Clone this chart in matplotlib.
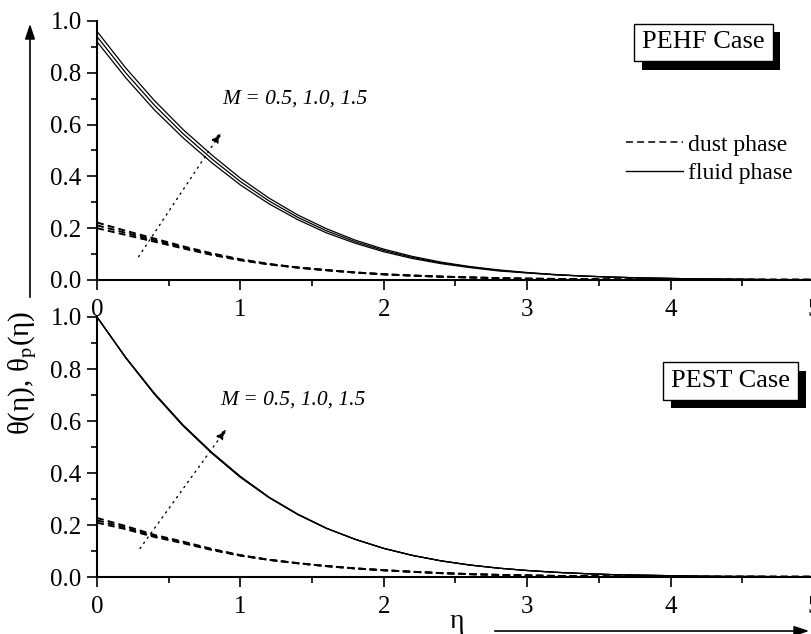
import matplotlib
matplotlib.use('Agg')
import matplotlib.pyplot as plt
import matplotlib.patheffects as pe
from matplotlib.ticker import MultipleLocator, FormatStrFormatter

plt.rcParams['font.family'] = ['Liberation Serif', 'DejaVu Serif']
plt.rcParams['mathtext.fontset'] = 'stix'
plt.rcParams['lines.scale_dashes'] = False

# eta grid (values every 0.2)
eta = [0.0, 0.2, 0.4, 0.6, 0.8, 1.0, 1.2, 1.4, 1.6, 1.8, 2.0, 2.2, 2.4,
       2.6, 2.8, 3.0, 3.2, 3.4, 3.6, 3.8, 4.0, 4.2, 4.4, 4.6, 4.8, 5.0]
M_values = ['0.5', '1.0', '1.5']

# PEHF case, fluid phase theta(eta)
pehf_fluid_m05 = [0.920, 0.781, 0.657, 0.549, 0.453, 0.367, 0.294, 0.233, 0.182, 0.142, 0.109, 0.083, 0.063,
                  0.048, 0.035, 0.027, 0.020, 0.015, 0.011, 0.008, 0.006, 0.004, 0.003, 0.002, 0.001, 0.001]
pehf_fluid_m10 = [0.940, 0.800, 0.675, 0.565, 0.468, 0.380, 0.305, 0.242, 0.190, 0.148, 0.114, 0.087, 0.066,
                  0.050, 0.037, 0.028, 0.020, 0.015, 0.011, 0.008, 0.006, 0.004, 0.003, 0.002, 0.001, 0.001]
pehf_fluid_m15 = [0.960, 0.819, 0.693, 0.581, 0.483, 0.393, 0.316, 0.251, 0.198, 0.154, 0.119, 0.091, 0.069,
                  0.052, 0.039, 0.029, 0.021, 0.015, 0.011, 0.008, 0.006, 0.004, 0.003, 0.002, 0.001, 0.001]
# PEHF case, dust phase theta_p(eta)
pehf_dust_m05 = [0.200, 0.174, 0.148, 0.122, 0.097, 0.076, 0.060, 0.048, 0.038, 0.029, 0.022, 0.017, 0.013,
                 0.010, 0.007, 0.005, 0.004, 0.003, 0.002, 0.002, 0.001, 0.001, 0.001, 0.001, 0.001, 0.001]
pehf_dust_m10 = [0.211, 0.182, 0.154, 0.126, 0.100, 0.078, 0.061, 0.048, 0.038, 0.029, 0.022, 0.017, 0.013,
                 0.010, 0.007, 0.005, 0.004, 0.003, 0.002, 0.002, 0.001, 0.001, 0.001, 0.001, 0.001, 0.001]
pehf_dust_m15 = [0.222, 0.190, 0.160, 0.130, 0.103, 0.080, 0.062, 0.048, 0.038, 0.029, 0.022, 0.017, 0.013,
                 0.010, 0.007, 0.005, 0.004, 0.003, 0.002, 0.002, 0.001, 0.001, 0.001, 0.001, 0.001, 0.001]

# PEST case, fluid phase
pest_fluid_m05 = [1.000, 0.843, 0.703, 0.581, 0.476, 0.383, 0.305, 0.240, 0.187, 0.145, 0.110, 0.083, 0.062,
                  0.046, 0.034, 0.025, 0.018, 0.013, 0.009, 0.007, 0.005, 0.003, 0.002, 0.002, 0.001, 0.001]
pest_fluid_m10 = [1.000, 0.844, 0.705, 0.583, 0.478, 0.385, 0.306, 0.241, 0.187, 0.145, 0.110, 0.083, 0.062,
                  0.046, 0.034, 0.025, 0.018, 0.013, 0.009, 0.007, 0.005, 0.003, 0.002, 0.002, 0.001, 0.001]
pest_fluid_m15 = [1.000, 0.845, 0.707, 0.585, 0.480, 0.387, 0.307, 0.242, 0.188, 0.145, 0.110, 0.083, 0.062,
                  0.046, 0.034, 0.025, 0.018, 0.013, 0.009, 0.007, 0.005, 0.003, 0.002, 0.002, 0.001, 0.001]
# PEST case, dust phase
pest_dust_m05 = [0.209, 0.184, 0.154, 0.130, 0.104, 0.082, 0.066, 0.053, 0.042, 0.033, 0.026, 0.020, 0.015,
                 0.011, 0.008, 0.006, 0.004, 0.003, 0.002, 0.002, 0.001, 0.001, 0.001, 0.001, 0.001, 0.001]
pest_dust_m10 = [0.218, 0.190, 0.158, 0.133, 0.106, 0.083, 0.066, 0.053, 0.042, 0.033, 0.026, 0.020, 0.015,
                 0.011, 0.008, 0.006, 0.004, 0.003, 0.002, 0.002, 0.001, 0.001, 0.001, 0.001, 0.001, 0.001]
pest_dust_m15 = [0.227, 0.196, 0.162, 0.136, 0.108, 0.084, 0.066, 0.053, 0.042, 0.033, 0.026, 0.020, 0.015,
                 0.011, 0.008, 0.006, 0.004, 0.003, 0.002, 0.002, 0.001, 0.001, 0.001, 0.001, 0.001, 0.001]

panels = [
    ('PEHF Case', [pehf_fluid_m05, pehf_fluid_m10, pehf_fluid_m15],
     [pehf_dust_m05, pehf_dust_m10, pehf_dust_m15], (4.23, 0.917), (0.29, 0.09), (0.87, 0.573), (0.875, 0.70)),
    ('PEST Case', [pest_fluid_m05, pest_fluid_m10, pest_fluid_m15],
     [pest_dust_m05, pest_dust_m10, pest_dust_m15], (4.42, 0.753), (0.30, 0.11), (0.905, 0.572), (0.86, 0.68)),
]

W, H = 812, 634
fig = plt.figure(figsize=(W / 100, H / 100), dpi=100)
left = 97 / W
right = 814 / W
ax_top = fig.add_axes([left, 1 - 280 / H, right - left, 259 / H])
ax_bot = fig.add_axes([left, 1 - 577 / H, right - left, 260 / H])

dash = (0, (5, 3))
for ax, (case, fluids, dusts, box_xy, a_start, a_tip, txt_xy) in zip([ax_top, ax_bot], panels):
    for f in fluids:
        ax.plot(eta, f, color='k', lw=0.9, solid_capstyle='butt')
    for d in dusts:
        ax.plot(eta, d, color='k', lw=1.4, linestyle=dash)

    ax.set_xlim(0, 5)
    ax.set_ylim(0, 1.0)
    ax.xaxis.set_major_locator(MultipleLocator(1))
    ax.xaxis.set_minor_locator(MultipleLocator(0.5))
    ax.yaxis.set_major_locator(MultipleLocator(0.2))
    ax.yaxis.set_minor_locator(MultipleLocator(0.1))
    ax.yaxis.set_major_formatter(FormatStrFormatter('%.1f'))
    for s in ['top', 'right']:
        ax.spines[s].set_visible(False)
    for s in ['left', 'bottom']:
        ax.spines[s].set_linewidth(1.5)
    ax.tick_params(which='major', direction='out', length=7, width=1.2, labelsize=18)
    ax.tick_params(which='minor', direction='out', length=4.5, width=1.2)
    ax.tick_params(axis='x', which='major', pad=7)
    ax.tick_params(axis='y', which='major', pad=4)
    ax.set_facecolor('none')

    # case label with drop shadow
    t = ax.text(box_xy[0], box_xy[1], case, fontsize=19, ha='center', va='center',
                bbox=dict(boxstyle='square,pad=0.3', fc='white', ec='k', lw=1.0))
    t.get_bbox_patch().set_path_effects([
        pe.SimplePatchShadow(offset=(5.5, -6), shadow_rgbFace='k', alpha=1.0), pe.Normal()])

    # dotted arrow indicating increasing M
    ax.annotate('', xy=a_tip, xytext=a_start,
                arrowprops=dict(arrowstyle='-|>,head_length=0.7,head_width=0.22', color='k',
                                lw=1.0, linestyle=(0, (1, 3.5)), shrinkA=0, shrinkB=0))
    ax.text(txt_xy[0], txt_xy[1], 'M = ' + ', '.join(M_values), fontsize=15.5,
            style='italic', ha='left', va='center')

# legend in the top panel
ax_top.plot([], [], color='k', lw=1.1, linestyle=dash, label='dust phase')
ax_top.plot([], [], color='k', lw=1.0, label='fluid phase')
ax_top.legend(loc='upper left', bbox_to_anchor=((625 - 97) / 715, 1 - (134 - 21) / 259),
              frameon=False, fontsize=17, handlelength=2.4, handletextpad=0.2,
              labelspacing=0.3, borderpad=0, borderaxespad=0)

# axis labels with the long arrows
fig.text(23 / W, 1 - 373 / H, 'θ(η), θ$_\\mathrm{p}$(η)', rotation=90, fontsize=21,
         ha='center', va='center')
fig.text(457 / W, 1 - 622 / H, 'η', fontsize=20, ha='center', va='center')
fig.add_artist(matplotlib.patches.FancyArrowPatch(
    (30 / W, 1 - 300 / H), (30 / W, 1 - 21 / H), transform=fig.transFigure,
    arrowstyle='-|>,head_length=0.6,head_width=0.2', mutation_scale=15, color='k', lw=1.2))
fig.add_artist(matplotlib.patches.FancyArrowPatch(
    (492 / W, 1 - 631 / H), (812 / W, 1 - 631 / H), transform=fig.transFigure,
    arrowstyle='-|>,head_length=0.6,head_width=0.2', mutation_scale=15, color='k', lw=1.2))

fig.savefig('out.png', dpi=100)
